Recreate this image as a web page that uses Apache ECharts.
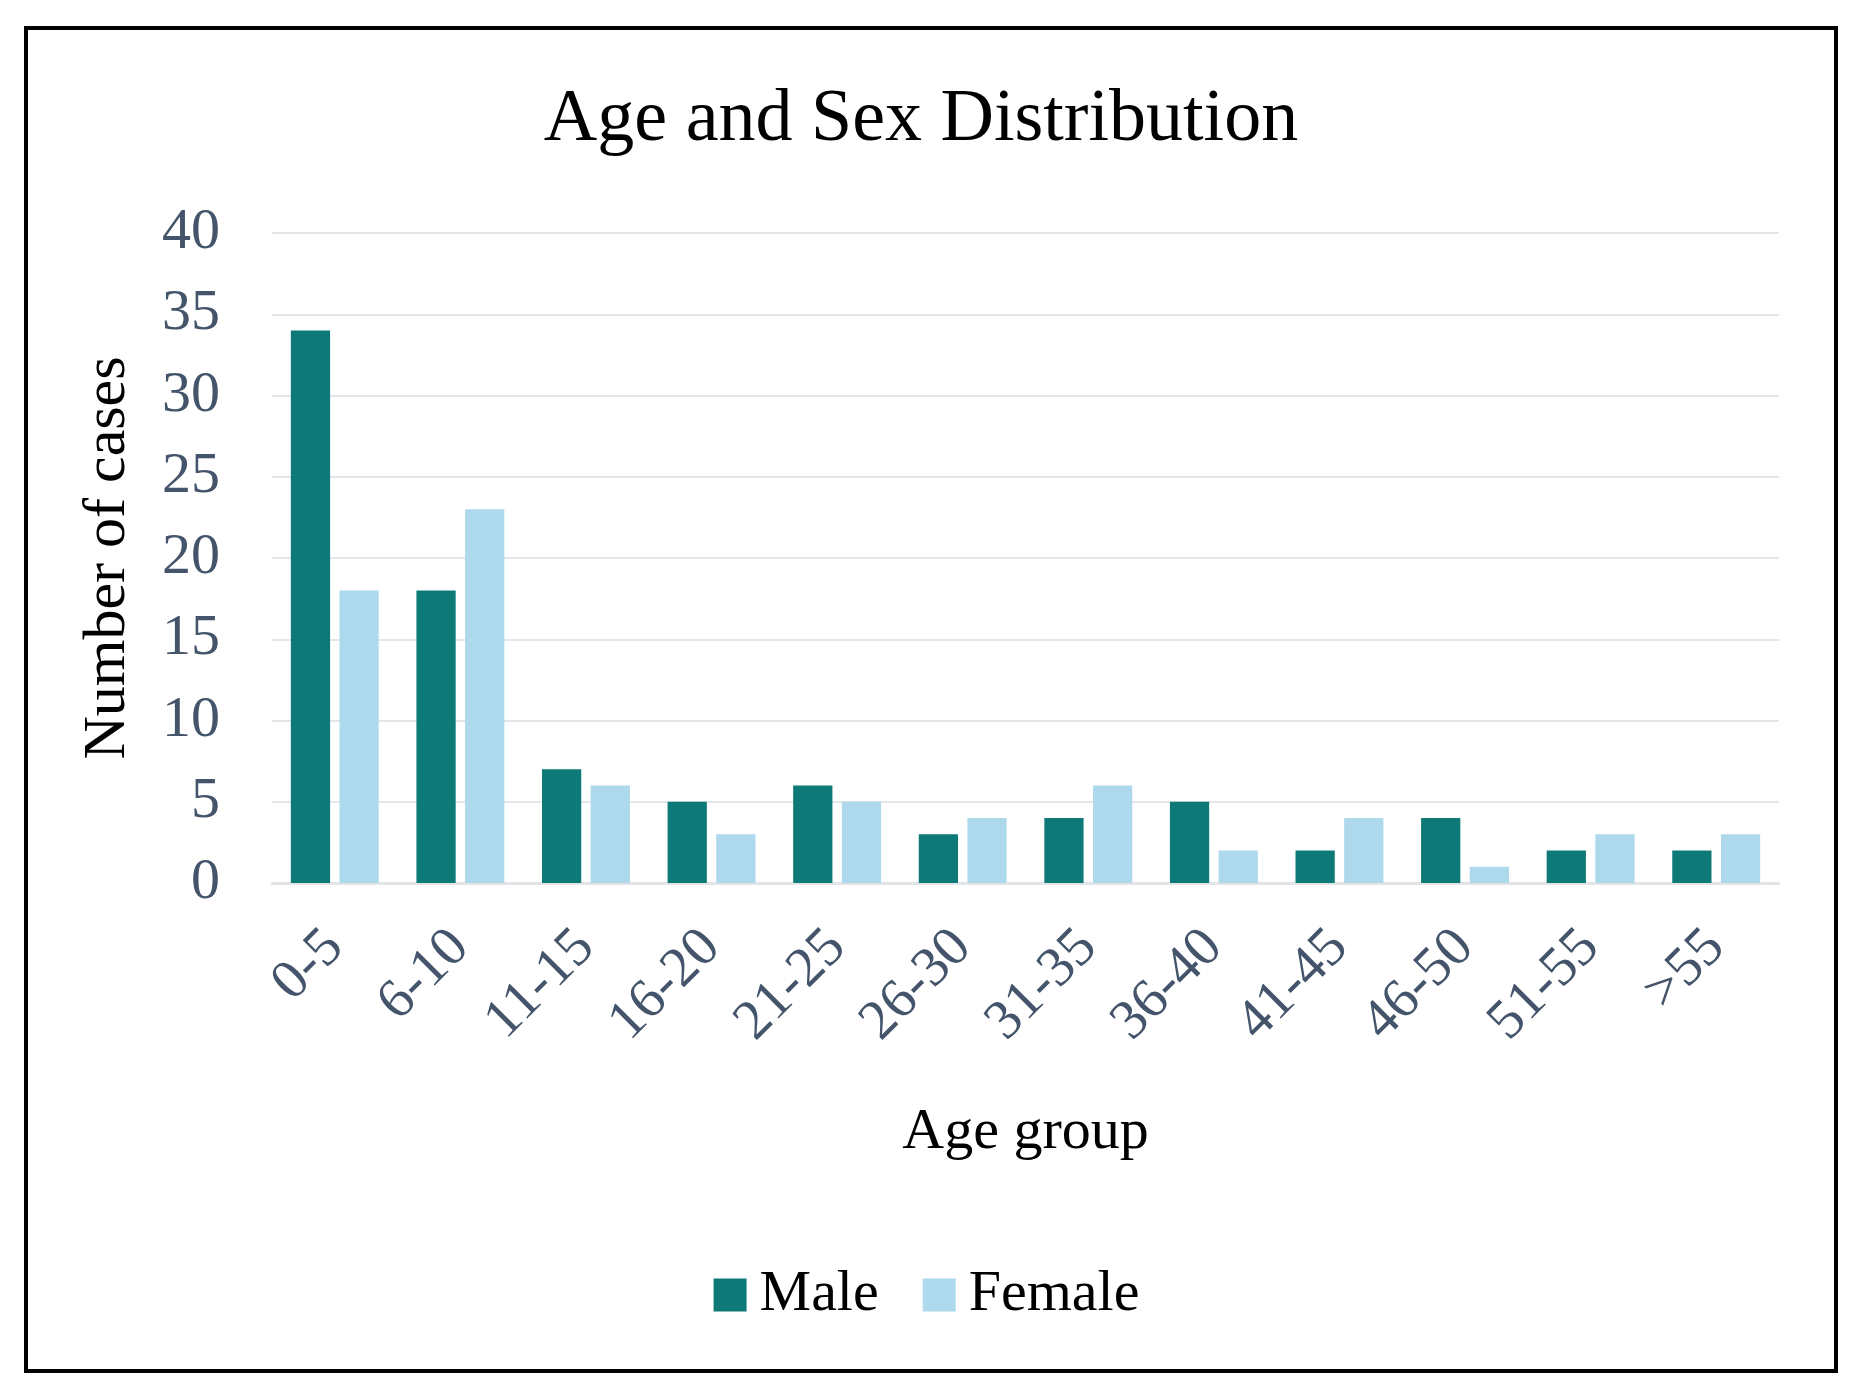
<!DOCTYPE html>
<html>
<head>
<meta charset="utf-8">
<title>Age and Sex Distribution</title>
<script src="https://cdn.jsdelivr.net/npm/echarts@6/dist/echarts.min.js"></script>
<style>
  html, body { margin: 0; padding: 0; background: #fff; }
  #main { width: 1853px; height: 1389px; }
</style>
</head>
<body>
<div id="main"></div>
<script>
// values
var ageGroups = ['0-5', '6-10', '11-15', '16-20', '21-25', '26-30', '31-35', '36-40', '41-45', '46-50', '51-55', '>55'];
var maleCases = [34, 18, 7, 5, 6, 3, 4, 5, 2, 4, 2, 2];
var femaleCases = [18, 23, 6, 3, 5, 4, 6, 2, 4, 1, 3, 3];
var yTicks = [0, 5, 10, 15, 20, 25, 30, 35, 40];

var serif = '"Liberation Serif", "DejaVu Serif", serif';
var tickColor = '#44546a';

var myChart = echarts.init(document.getElementById('main'));
var option = {
    backgroundColor: '#fff',
    animation: false,
    title: {
        text: 'Age and Sex Distribution',
        left: 916,
        textAlign: 'center',
        top: 79,
        textStyle: {
            fontFamily: serif,
            fontSize: 74,
            fontWeight: 'normal',
            color: '#000'
        }
    },
    legend: {
        data: ['Male', 'Female'],
        left: 'center',
        top: 1261,
        itemWidth: 33,
        itemHeight: 33,
        itemGap: 44,
        icon: 'rect',
        textStyle: {
            fontFamily: serif,
            fontSize: 58,
            color: '#000',
            padding: [0, 0, 0, 8]
        }
    },
    grid: {
        left: 272,
        right: 74,
        top: 233,
        bottom: 506,
        containLabel: false
    },
    xAxis: {
        type: 'category',
        data: ageGroups,
        name: 'Age group',
        nameLocation: 'middle',
        nameGap: 221,
        nameTextStyle: {
            fontFamily: serif,
            fontSize: 58,
            color: '#000'
        },
        axisTick: { show: false },
        axisLine: { lineStyle: { color: '#e2e4e8', width: 3 } },
        axisLabel: {
            rotate: 45,
            margin: 56,
            interval: 0,
            fontFamily: serif,
            fontSize: 56,
            color: tickColor
        }
    },
    yAxis: {
        type: 'value',
        min: yTicks[0],
        max: yTicks[yTicks.length - 1],
        interval: 5,
        name: 'Number of cases',
        nameLocation: 'middle',
        nameGap: 134,
        nameTextStyle: {
            fontFamily: serif,
            fontSize: 60,
            color: '#000'
        },
        axisLine: { show: false },
        axisTick: { show: false },
        axisLabel: {
            margin: 52,
            fontFamily: serif,
            fontSize: 58,
            color: tickColor
        },
        splitLine: { lineStyle: { color: '#e3e6ea', width: 2 } }
    },
    series: [
        {
            name: 'Male',
            type: 'bar',
            data: maleCases,
            barGap: '24%',
            barCategoryGap: '30%',
            itemStyle: { color: '#0e7a77' }
        },
        {
            name: 'Female',
            type: 'bar',
            data: femaleCases,
            itemStyle: { color: '#aed9ec' }
        }
    ],
    graphic: [
        {
            type: 'rect',
            shape: { x: 26, y: 28, width: 1810, height: 1343 },
            style: { fill: 'none', stroke: '#000', lineWidth: 4 }
        }
    ]
};
myChart.setOption(option);
</script>
</body>
</html>
